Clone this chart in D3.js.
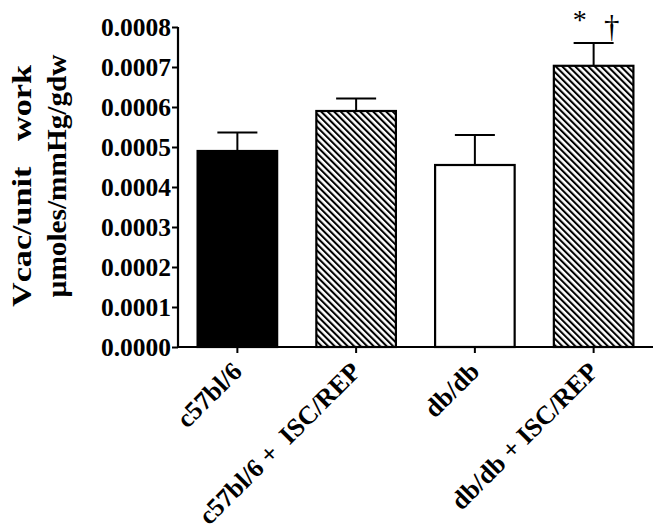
<!DOCTYPE html>
<html><head><meta charset="utf-8">
<script src="https://cdn.jsdelivr.net/npm/d3@7"></script>
<style>
body{margin:0;background:#fff;}
text{font-family:"Liberation Serif","Times New Roman",serif;}
</style></head>
<body>
<svg id="chart" width="664" height="532"></svg>
<script>
const categories = ["c57bl/6", "c57bl/6 +  ISC/REP", "db/db", "db/db + ISC/REP"];
const means = [0.00049, 0.00059, 0.000455, 0.000703];
const errors = [0.000046, 0.000031, 0.000075, 0.000057];
const fills = ["solid", "hatch", "white", "hatch"];
const yTicks = [0, 0.0001, 0.0002, 0.0003, 0.0004, 0.0005, 0.0006, 0.0007, 0.0008];
const yLabelLines = ["Vcac/unit   work", "\u00b5moles/mmHg/gdw"];
const markers = ["*", "\u2020"];

const svg = d3.select("#chart");
const x0 = 178, x1 = 653, yTop = 27, yBot = 347;

const x = d3.scaleBand().domain(categories).range([x0, x1]).paddingInner(0.33).paddingOuter(0.165);
const y = d3.scaleLinear().domain([0, 0.0008]).range([yBot, yTop]);

const defs = svg.append("defs");
defs.append("pattern").attr("id", "hatch").attr("patternUnits", "userSpaceOnUse")
  .attr("width", 4.6).attr("height", 4.6).attr("patternTransform", "rotate(-45)")
  .call(p => {
    p.append("rect").attr("width", 4.6).attr("height", 4.6).attr("fill", "#fff");
    p.append("line").attr("x1", 1).attr("y1", 0).attr("x2", 1).attr("y2", 4.6)
      .attr("stroke", "#000").attr("stroke-width", 2.1);
  });

// bars
svg.append("g").selectAll("rect").data(categories).join("rect")
  .attr("x", d => x(d)).attr("width", x.bandwidth())
  .attr("y", (d, i) => y(means[i])).attr("height", (d, i) => yBot - y(means[i]))
  .attr("fill", (d, i) => fills[i] === "solid" ? "#000" : fills[i] === "hatch" ? "url(#hatch)" : "#fff")
  .attr("stroke", "#000").attr("stroke-width", 2.2);

// error bars
const eg = svg.append("g").attr("stroke", "#000").attr("stroke-width", 2);
categories.forEach((c, i) => {
  const cx = x(c) + x.bandwidth() / 2;
  eg.append("line").attr("x1", cx).attr("x2", cx).attr("y1", y(means[i])).attr("y2", y(means[i] + errors[i]));
  eg.append("line").attr("x1", cx - 20).attr("x2", cx + 20).attr("y1", y(means[i] + errors[i])).attr("y2", y(means[i] + errors[i]));
});

// y axis
const yAxis = svg.append("g").attr("transform", `translate(${x0},0)`)
  .call(d3.axisLeft(y).tickValues(yTicks).tickFormat(d3.format(".4f")).tickSizeOuter(0).tickSize(6));
yAxis.select(".domain").attr("stroke-width", 2.2).attr("d", `M0,${yTop}V${yBot}`);
yAxis.selectAll(".tick line").attr("stroke-width", 2);
yAxis.selectAll(".tick text").attr("font-size", 25.5).attr("font-weight", "bold")
  .attr("font-family", "Liberation Serif").attr("x", -7).attr("dy", "0.34em").attr("fill", "#000");

// x axis
const xAxis = svg.append("g").attr("transform", `translate(0,${yBot})`)
  .call(d3.axisBottom(x).tickSizeOuter(0).tickSize(6));
xAxis.select(".domain").attr("stroke-width", 2.2).attr("d", `M${x0},0H${x1}`);
xAxis.selectAll(".tick line").attr("stroke-width", 2);
xAxis.selectAll(".tick text").attr("font-size", 26).attr("font-weight", "bold")
  .attr("font-family", "Liberation Serif").attr("fill", "#000")
  .attr("text-anchor", "end").attr("y", 0).attr("dy", 0)
  .attr("transform", "translate(6,26) rotate(-45)")
  .style("white-space", "pre");

// y label
const yl = svg.append("g").attr("font-size", 28).attr("font-weight", "bold");
yl.append("text").attr("transform", "translate(31,186) rotate(-90)")
  .attr("text-anchor", "middle").style("white-space", "pre")
  .attr("textLength", 242).attr("lengthAdjust", "spacingAndGlyphs").text(yLabelLines[0]);
yl.append("text").attr("transform", "translate(66,176) rotate(-90)")
  .attr("text-anchor", "middle")
  .attr("textLength", 243).attr("lengthAdjust", "spacingAndGlyphs").text(yLabelLines[1]);

// significance markers
const m4 = x(categories[3]) + x.bandwidth() / 2;
svg.append("text").attr("x", m4 - 14).attr("y", 29).attr("font-size", 28).attr("text-anchor", "middle").text(markers[0]);
svg.append("text").attr("x", m4 + 18).attr("y", 37).attr("font-size", 31).attr("text-anchor", "middle").text(markers[1]);
</script>
</body></html>
